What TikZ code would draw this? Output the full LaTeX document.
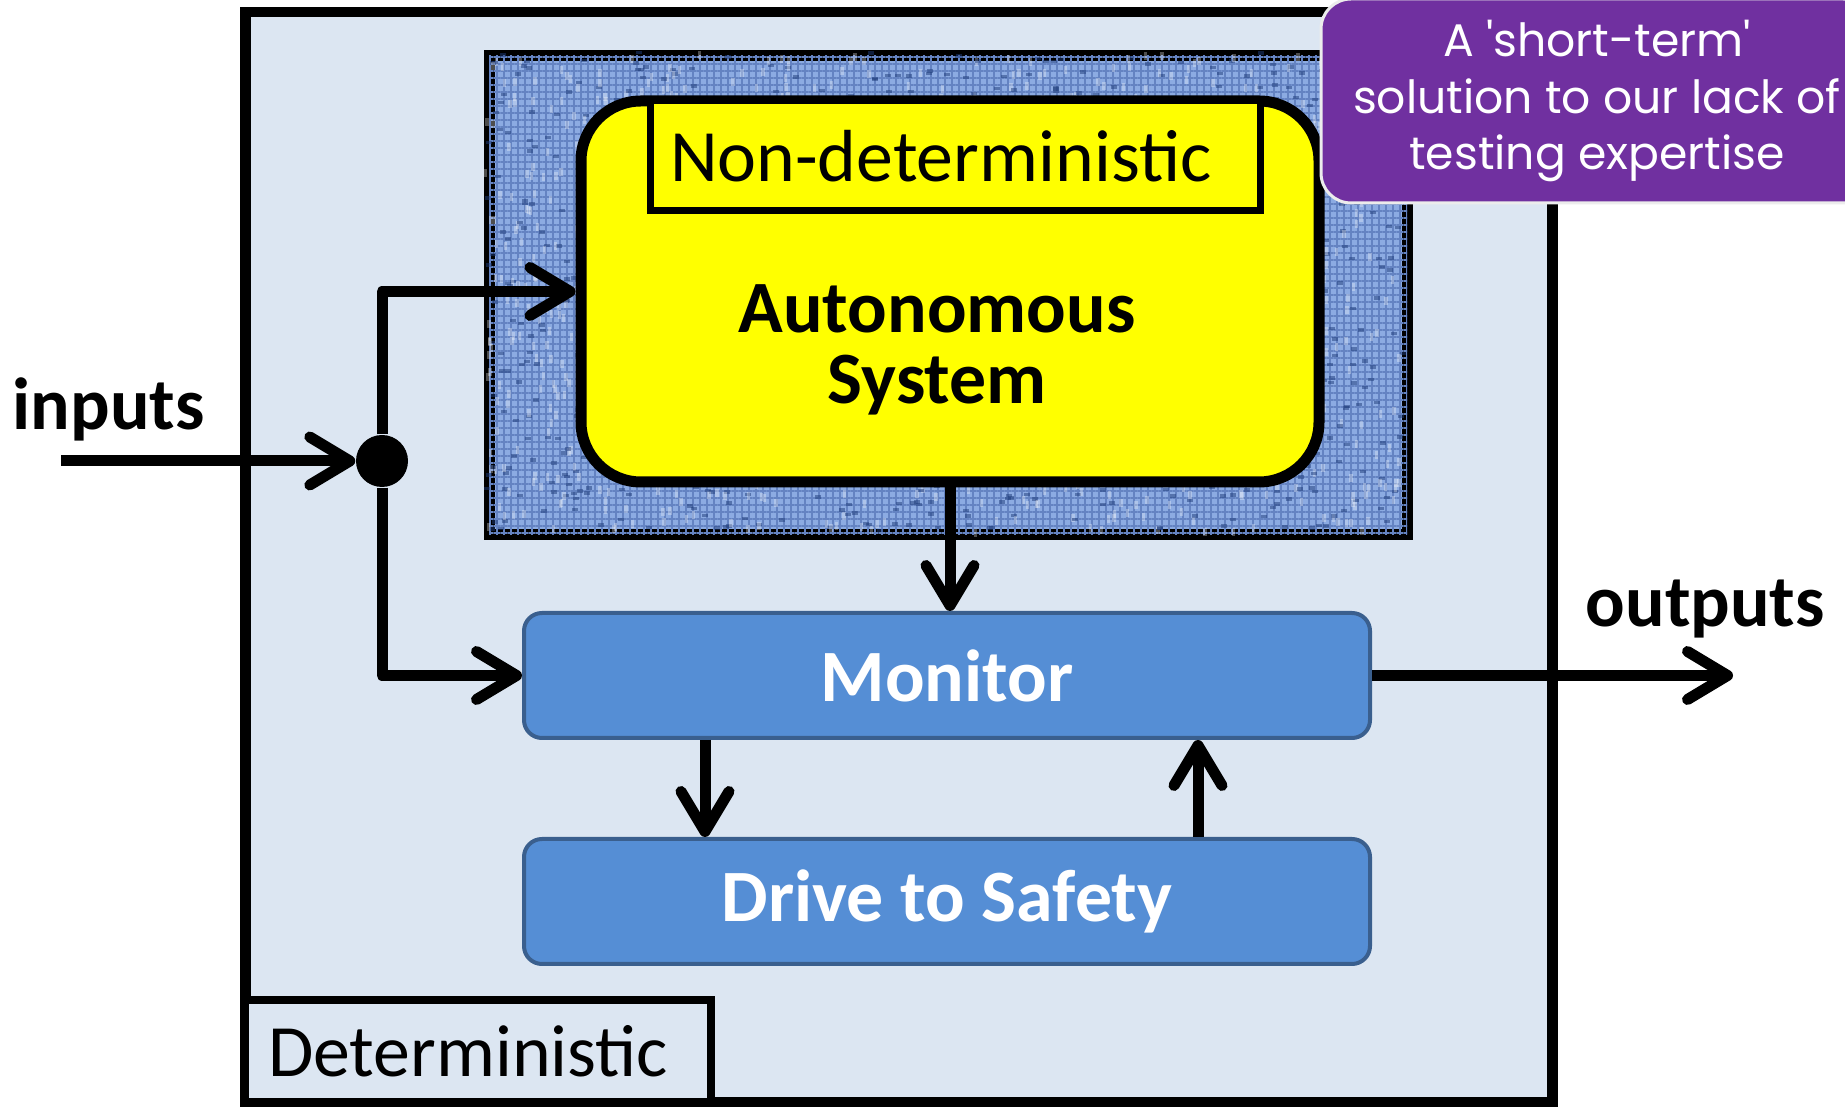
\documentclass[tikz,border=0pt]{standalone}
\usepackage{fontspec}
\setmainfont{Carlito}
\newfontfamily\notefont{Poppins}
\usetikzlibrary{arrows.meta,positioning,patterns.meta,calc}
\definecolor{ink}{HTML}{000000}
\definecolor{detbg}{HTML}{DCE6F2}
\definecolor{clothblue}{HTML}{8CABE2}
\definecolor{clothmid}{HTML}{6483C2}
\definecolor{clothdark}{HTML}{1F3C7A}
\definecolor{autoyellow}{HTML}{FFFF00}
\definecolor{boxblue}{HTML}{558ED5}
\definecolor{boxedge}{HTML}{3A5F8E}
\definecolor{notepurple}{HTML}{7030A0}
\newcommand{\bigtext}{\fontsize{21}{20}\selectfont}
\tikzset{
  detframe/.style={draw=ink,fill=detbg,line width=1.05mm,inner sep=0pt,
                   minimum width=130.7mm,minimum height=109mm},
  tagbox/.style={draw=ink,fill=detbg,line width=0.8mm,inner sep=0pt,
                 font=\bigtext,align=left},
  cloth/.style={draw=ink,fill=clothblue,line width=1.1mm,inner sep=0pt,
                minimum width=91.8mm,minimum height=47.9mm,
                postaction={pattern={Lines[distance=0.7mm,angle=0,line width=0.12mm]},pattern color=clothmid},
                postaction={pattern={Lines[distance=0.7mm,angle=90,line width=0.12mm]},pattern color=clothmid}},
  speck/.style={fill=clothdark,opacity=0.5},
  glint/.style={fill=white,opacity=0.3},
  autobox/.style={draw=ink,fill=autoyellow,line width=1.1mm,rounded corners=6mm,
                  inner sep=0pt,minimum width=73.8mm,minimum height=38.1mm},
  bluebox/.style={draw=boxedge,fill=boxblue,line width=0.4mm,rounded corners=1.8mm,
                  minimum width=84.6mm,minimum height=12.5mm,inner sep=0pt,
                  text=white,font=\bigtext\bfseries},
  junction/.style={circle,fill=ink,minimum size=5.2mm,inner sep=0pt},
  wire/.style={-{Straight Barb[length=4mm,width=4.8mm,round]},line width=1.1mm,
               draw=ink,line join=round},
  note/.style={draw=white!85!gray,line width=0.3mm,fill=notepurple,rounded corners=3mm,
               text=white,font=\notefont\fontsize{13}{16.2}\selectfont,align=center,
               minimum width=55.2mm,minimum height=20.4mm,inner sep=0pt}
}

\begin{document}
\begin{tikzpicture}[x=1mm,y=-1mm]
  \useasboundingbox (0,0) rectangle (184.5,110.7);
  \clip (0,0) rectangle (184.5,110.7);
  % deterministic wrapper
  \node[detframe] (det) at (89.9,55.7) {};
  \node[tagbox,text width=42mm,minimum width=46.6mm,minimum height=10.2mm] (detlabel) at (47.8,105.1) {Deterministic};
  % autonomous part on a woven backdrop
  \node[cloth] (cloth) at (94.8,29.55) {};
  \begin{scope}
    \clip (cloth.north west) rectangle (cloth.south east);
    \pgfmathsetseed{11}
    \foreach \k in {1,...,1100}{
      \fill[speck] ($(cloth.north west)+({rnd*91.8},{rnd*47.9})$) rectangle ++(0.6,0.35);
      \fill[glint] ($(cloth.north west)+({rnd*91.8},{rnd*47.9})$) rectangle ++(0.35,0.8);
    }
  \end{scope}
  \node[autobox] (auto) at (95.0,29.15) {};
  \node[tagbox,fill=autoyellow,line width=0.7mm,text width=57mm,minimum width=61mm,minimum height=11mm] (nondet) at (95.5,15.6) {Non-deterministic};
  \node[font=\bigtext\bfseries,align=center] (autotxt) at (93.7,35.0) {Autonomous\\System};
  % monitor and fallback
  \node[bluebox] (mon) at (94.7,67.55) {Monitor};
  \node[bluebox] (dts) at (94.7,90.15) {Drive to Safety};
  \node[junction] (dot) at (38.2,46.1) {};
  \coordinate (in) at (6.1,46.1);
  \coordinate (out) at (173.3,67.55);
  \draw[wire] (in) -- (dot);
  \draw[wire] (dot) |- (auto.west);
  \draw[wire] (dot) |- (mon.west);
  \draw[wire] (auto.south) -- (auto.south |- mon.north);
  \draw[wire] (70.5,0 |- mon.south) -- (70.5,0 |- dts.north);
  \draw[wire] (119.8,0 |- dts.north) -- (119.8,0 |- mon.south);
  \draw[wire] (mon) -- (out);
  \node[font=\bigtext\bfseries,anchor=base west,inner sep=0pt] (inlabel) at (1.2,43.0) {inputs};
  \node[font=\bigtext\bfseries,anchor=base west,inner sep=0pt] (outlabel) at (158.5,62.7) {outputs};
  \node[note] (note) at (159.7,10.1) {A 'short-term'\\solution to our lack of\\testing expertise};
\end{tikzpicture}
\end{document}
